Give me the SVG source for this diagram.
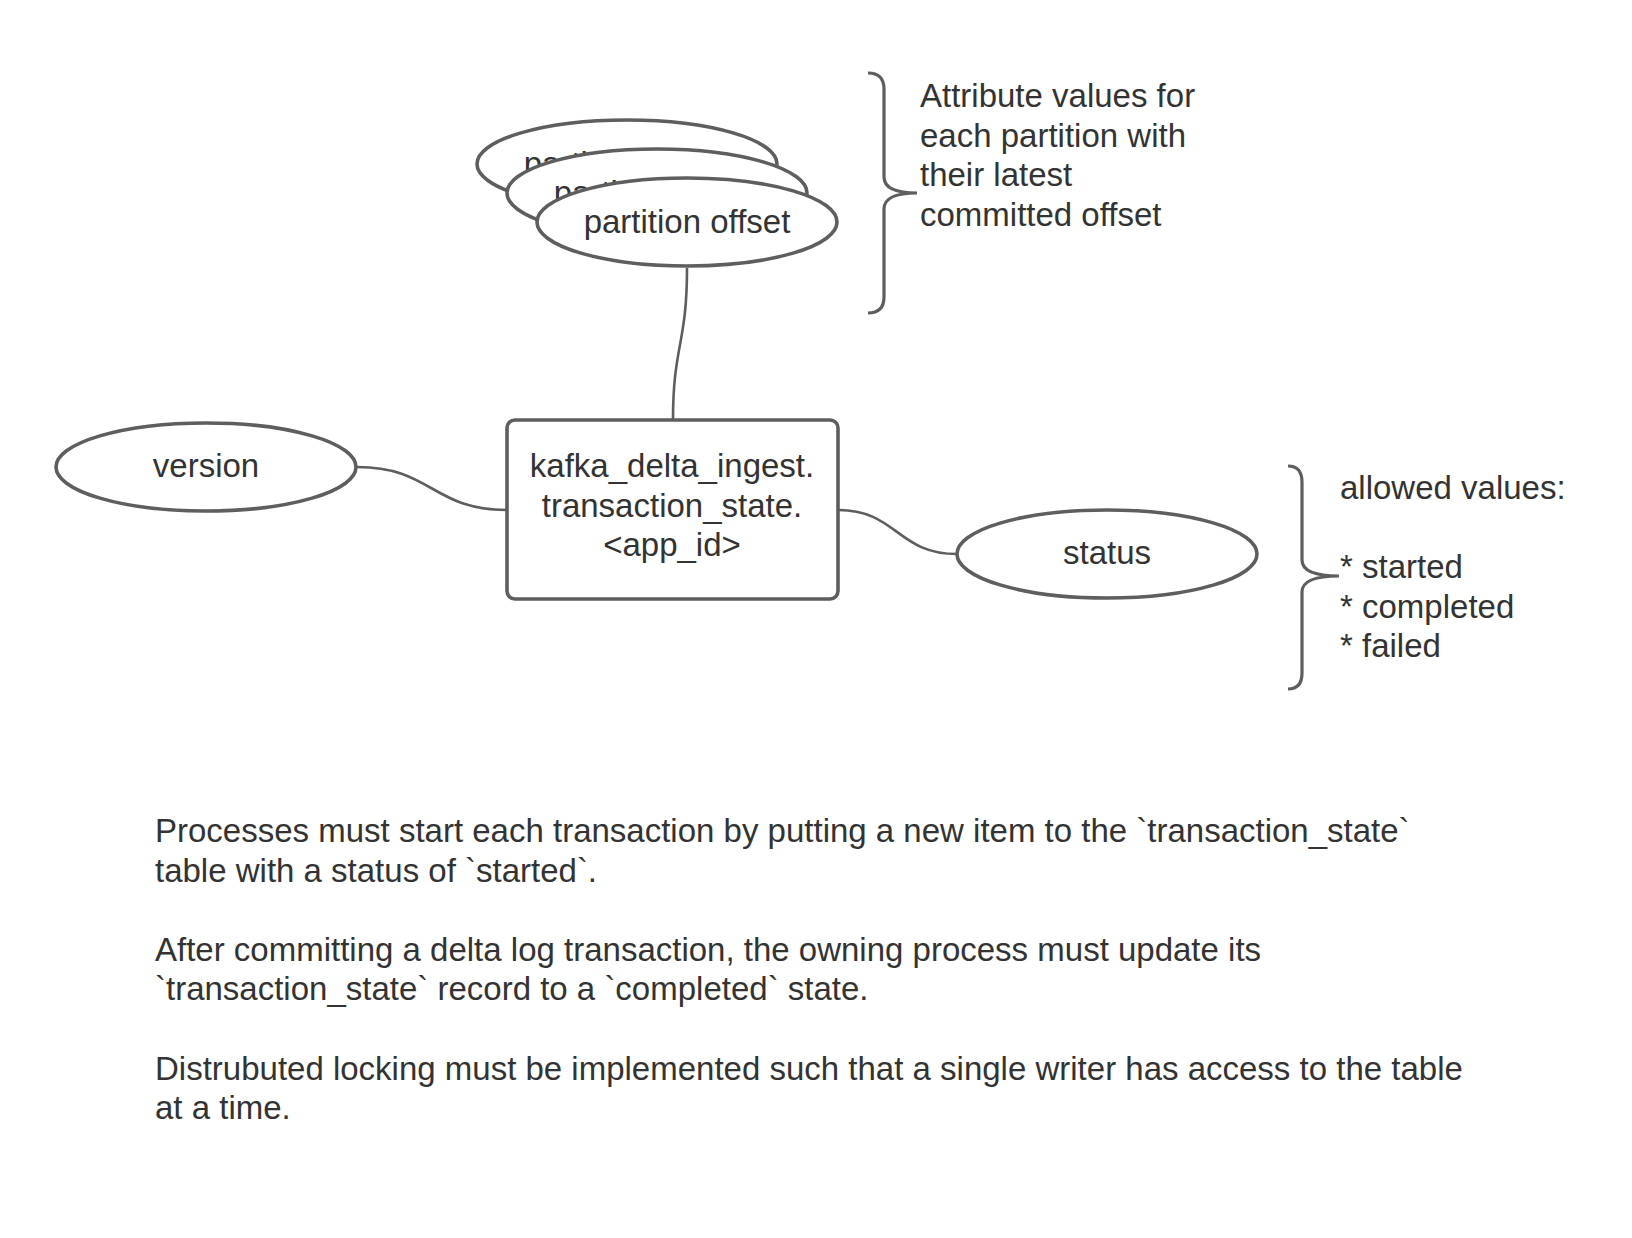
<svg xmlns="http://www.w3.org/2000/svg" width="1632" height="1238" viewBox="0 0 1632 1238">
<style>
.shape{fill:#fff;stroke:#5e5e5e;stroke-width:3.6}
.line{fill:none;stroke:#5e5e5e;stroke-width:2.6}
.brace{fill:none;stroke:#5e5e5e;stroke-width:3.2}
text{font-family:"Liberation Sans",Arial,sans-serif;font-size:33px;fill:#333}
.c{text-anchor:middle}
</style>
<rect width="1632" height="1238" fill="#fff"/>
<g id="connectors">
<path class="line" d="M687,268 C687,345 673,345 673,420"/>
<path class="line" d="M357,467 C432,467 432,510 507,510"/>
<path class="line" d="M838,510 C897,510 897,554 957,554"/>
</g>
<g id="partition-offset-3">
<ellipse class="shape" cx="627" cy="164" rx="150" ry="44"/>
<text class="c" x="627" y="175">partition offset</text>
</g>
<g id="partition-offset-2">
<ellipse class="shape" cx="657" cy="193" rx="150" ry="44"/>
<text class="c" x="657" y="204">partition offset</text>
</g>
<g id="partition-offset-1">
<ellipse class="shape" cx="687" cy="222" rx="150" ry="44"/>
<text class="c" x="687" y="233">partition offset</text>
</g>
<g id="table">
<rect class="shape" x="507" y="420" width="331" height="179" rx="8"/>
<text class="c" x="672" y="477">kafka_delta_ingest.</text>
<text class="c" x="672" y="517">transaction_state.</text>
<text class="c" x="672" y="556">&lt;app_id&gt;</text>
</g>
<g id="version">
<ellipse class="shape" cx="206" cy="467" rx="150" ry="44"/>
<text class="c" x="206" y="477">version</text>
</g>
<g id="status">
<ellipse class="shape" cx="1107" cy="554" rx="150" ry="44"/>
<text class="c" x="1107" y="564">status</text>
</g>
<g id="brace-partition">
<path class="brace" d="M868,73 Q884,73 884,89 L884,177 Q884,193 917,193 Q884,193 884,209 L884,297 Q884,313 868,313"/>
<text x="920" y="107">Attribute values for</text>
<text x="920" y="146.6">each partition with</text>
<text x="920" y="186.2">their latest</text>
<text x="920" y="225.8">committed offset</text>
</g>
<g id="brace-status">
<path class="brace" d="M1288,466 Q1302,466 1302,482 L1302,560 Q1302,576 1339,576 Q1302,576 1302,592 L1302,673 Q1302,689 1288,689"/>
<text x="1340" y="499">allowed values:</text>
<text x="1340" y="578.2">* started</text>
<text x="1340" y="617.8">* completed</text>
<text x="1340" y="657.4">* failed</text>
</g>
<g id="notes">
<text x="155" y="842">Processes must start each transaction by putting a new item to the `transaction_state`</text>
<text x="155" y="881.6">table with a status of `started`.</text>
<text x="155" y="960.8">After committing a delta log transaction, the owning process must update its</text>
<text x="155" y="1000.4">`transaction_state` record to a `completed` state.</text>
<text x="155" y="1079.6">Distrubuted locking must be implemented such that a single writer has access to the table</text>
<text x="155" y="1119.2">at a time.</text>
</g>
</svg>
